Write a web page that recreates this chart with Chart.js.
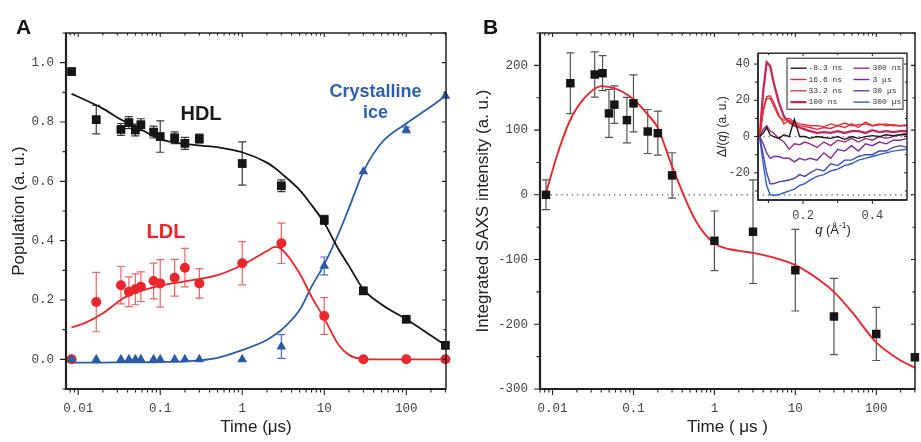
<!DOCTYPE html>
<html>
<head>
<meta charset="utf-8">
<title>HDL / LDL populations and integrated SAXS intensity</title>
<script src="https://cdn.jsdelivr.net/npm/chart.js@4.4.1/dist/chart.umd.min.js"></script>
<style>
  html, body { margin: 0; padding: 0; background: #fff; }
  #fig { position: relative; width: 921px; height: 442px; overflow: hidden; background: #fff; }
  #fig canvas { position: absolute; }
</style>
</head>
<body>
<div id="fig">
  <canvas id="chartA" width="460" height="442" style="left:0;top:0"></canvas>
  <canvas id="chartB" width="461" height="442" style="left:460px;top:0"></canvas>
  <canvas id="chartInset" width="205" height="207" style="left:712px;top:38px"></canvas>
</div>
<script>
const SANS = "'Liberation Sans', Arial, sans-serif";
const MONO = "'Liberation Mono', 'DejaVu Sans Mono', monospace";

// ---- panel A : populations vs time (us) ----
const times  = [0.0083, 0.0166, 0.0332, 0.0415, 0.0498, 0.0581, 0.083, 0.1, 0.15, 0.2, 0.3, 1, 3, 10, 30, 100, 300];
const hdl    = [0.97, 0.808, 0.775, 0.798, 0.773, 0.791, 0.766, 0.751, 0.747, 0.728, 0.744, 0.66, 0.585, 0.47, 0.231, 0.135, 0.047];
const hdlErr = [0, 0.048, 0.02, 0.02, 0.02, 0.02, 0.02, 0.053, 0.02, 0.02, 0.015, 0.073, 0.02, 0.015, 0, 0, 0];
const ldl    = [0, 0.193, 0.25, 0.228, 0.236, 0.245, 0.264, 0.256, 0.275, 0.309, 0.256, 0.324, 0.391, 0.146, 0, 0, 0];
const ldlErr = [0, 0.1, 0.063, 0.05, 0.052, 0.05, 0.06, 0.08, 0.062, 0.065, 0.05, 0.073, 0.068, 0.062, 0, 0, 0];
const ice    = [0, 0, 0, 0, 0, 0, 0, 0, 0, 0, 0, 0, 0.043, 0.315, 0.633, 0.773, 0.888];
const iceErr = [0, 0, 0, 0, 0, 0, 0, 0, 0, 0, 0, 0, 0.04, 0.03, 0, 0.01, 0];

// fitted curves
const fitTimes = [0.0083, 0.012, 0.02, 0.035, 0.05, 0.1, 0.2, 0.5, 1, 2, 2.5, 3, 5, 7, 10, 15, 20, 30, 50, 100, 200, 300];
const hdlFit = [0.895, 0.875, 0.845, 0.805, 0.785, 0.742, 0.726, 0.715, 0.698, 0.663, 0.645, 0.627, 0.571, 0.52, 0.46, 0.37, 0.315, 0.236, 0.185, 0.135, 0.08, 0.047];
const ldlFit = [0.108, 0.122, 0.155, 0.205, 0.225, 0.248, 0.263, 0.284, 0.318, 0.365, 0.379, 0.372, 0.29, 0.211, 0.138, 0.048, 0.015, 0.001, 0, 0, 0, 0];
const iceFit = [-0.011, -0.011, -0.011, -0.01, -0.01, -0.009, -0.007, 0.005, 0.031, 0.065, 0.083, 0.099, 0.166, 0.245, 0.32, 0.425, 0.51, 0.633, 0.73, 0.795, 0.852, 0.888];

// ---- panel B : integrated SAXS intensity ----
const saxs    = [0, 172.4, 185.9, 187.9, 125.8, 139.3, 115.4, 141.3, 97.8, 95.2, 30, -71, -57, -116.5, -188, -215, -251];
const saxsErr = [23, 47, 35, 27, 37, 29, 35, 44, 34, 34, 35, 46, 80, 63, 59, 41, 0];
const saxsFitTimes = [0.0083, 0.012, 0.0166, 0.025, 0.04, 0.06, 0.1, 0.15, 0.2, 0.3, 0.58, 1, 2, 3, 5, 10, 20, 30, 50, 100, 200, 300];
const saxsFit = [3, 70, 116, 150, 168, 164, 147.5, 124, 103.5, 44, -39, -75, -86.5, -89.6, -95.8, -108.7, -132, -150, -181, -228, -256, -267];

// ---- inset : dI(q) curves ----
const qValues = [0.075, 0.085, 0.095, 0.105, 0.115, 0.13, 0.145, 0.16, 0.175, 0.19, 0.205, 0.22, 0.24, 0.26, 0.28, 0.30, 0.32, 0.34, 0.36, 0.38, 0.40, 0.42, 0.44, 0.46, 0.48, 0.50];
const insetLabels = ['-8.3 ns', '16.6 ns', '33.2 ns', '100 ns', '300 ns', '3 \u03bcs', '30 \u03bcs', '300 \u03bcs'];
const dI_m8ns  = [0, 2, 5, 1, 0, -1, 1, 0, 9.5, 0, 0, -1, 0, -0.5, -1, 0, -1.5, 0, -1, 0, 0.5, 0, 1, 0.5, 1, 1];
const dI_16ns  = [0, 15, 22, 22.5, 19, 12, 7, 9, 7, 6, 5.5, 5, 4, 5, 4.5, 6, 5, 7, 5, 8, 6, 7, 6, 6.5, 6, 6];
const dI_33ns  = [0, 14, 21, 21, 17, 11, 9, 10, 8, 7, 6.5, 6, 6, 5.5, 7, 6, 7.5, 6, 6.5, 7, 6, 6.5, 7, 6, 6, 6.5];
const dI_100ns = [0, 25, 41, 39, 30, 19, 11, 8, 6, 5, 4, 3, 2, 2.5, 2, 3, 2, 3, 3, 2, 3.5, 2.5, 3, 2.5, 3, 3];
const dI_300ns = [0, 4, 6, 3, 2, -1, -3, -7, -4, -4.5, -3, -4, -6, -3, -5, -2, -3, -1, -3, -1, -2, 0, -1, 0, 1, 2];
const dI_3us   = [0, -4, -9, -12, -11, -11, -12, -12, -14, -12, -13, -12, -13, -9, -12, -7, -8, -5, -8, -4, -5, -3, -4, -2, -2, -1];
const dI_30us  = [0, -10, -20, -26, -26, -25, -24.5, -24, -23, -21, -22, -20, -18, -19, -15, -16, -13, -13, -11, -10, -10, -8, -8, -6, -5, -6];
const dI_300us = [-1, -15, -27, -32, -32.5, -32, -31, -30, -29, -27, -26, -24, -22, -21, -19, -18, -16, -15, -13, -12, -11, -10, -9, -8, -7.5, -7];
const insetSeries = [dI_m8ns, dI_16ns, dI_33ns, dI_100ns, dI_300ns, dI_3us, dI_30us, dI_300us];
const insetColors = ['#1a1a1a', '#e8282e', '#e43646', '#c4295c', '#a32a7e', '#7b2d9b', '#4547b4', '#2a5fc4'];

// tick values
const timeTicks = [0.01, 0.1, 1, 10, 100];
const timeMinor = [];
[0.001, 0.01, 0.1, 1, 10, 100].forEach(d => { for (let m = 2; m <= 9; m++) timeMinor.push(+(d * m).toPrecision(3)); });
const popTicks = [0, 0.2, 0.4, 0.6, 0.8, 1.0];
const popMinor = [-0.1, 0.1, 0.3, 0.5, 0.7, 0.9, 1.1];
const saxsTicks = [-300, -200, -100, 0, 100, 200];
const saxsMinor = [-250, -150, -50, 50, 150, 250];
const qTicks = [0.2, 0.4];
const qMinor = [0.1, 0.3];
const dITicks = [-20, 0, 20, 40];
const dIMinor = [-30, -10, 10, 30];

const pts = (xs, ys) => xs.map((x, i) => ({ x: x, y: ys[i] }));

// error bars from dataset.errors
const errorBars = {
  id: 'errorBars',
  beforeDatasetsDraw(chart) {
    const ctx = chart.ctx, ys = chart.scales.y;
    chart.data.datasets.forEach((ds, i) => {
      if (!ds.errors) return;
      const meta = chart.getDatasetMeta(i);
      ctx.save();
      ctx.strokeStyle = ds.errorColor;
      ctx.lineWidth = 1.2;
      meta.data.forEach((p, j) => {
        const e = ds.errors[j];
        if (!e) return;
        const v = ds.data[j].y;
        const y1 = ys.getPixelForValue(v + e), y2 = ys.getPixelForValue(v - e);
        ctx.beginPath();
        ctx.moveTo(p.x, y1); ctx.lineTo(p.x, y2);
        ctx.moveTo(p.x - 4, y1); ctx.lineTo(p.x + 4, y1);
        ctx.moveTo(p.x - 4, y2); ctx.lineTo(p.x + 4, y2);
        ctx.stroke();
      });
      ctx.restore();
    });
  }
};

// dotted zero line
const zeroLine = {
  id: 'zeroLine',
  beforeDatasetsDraw(chart, args, opts) {
    if (!opts.show) return;
    const { ctx, chartArea: a } = chart;
    const y = chart.scales.y.getPixelForValue(0);
    ctx.save();
    ctx.strokeStyle = opts.color;
    ctx.lineWidth = 1.3;
    ctx.setLineDash([1.3, 4]);
    ctx.beginPath(); ctx.moveTo(a.left, y); ctx.lineTo(a.right, y); ctx.stroke();
    ctx.restore();
  }
};

// box frame with major/minor tick marks (outside on bottom/left, inside on top/right)
const frameTicks = {
  id: 'frameTicks',
  afterDatasetsDraw(chart, args, o) {
    const { ctx, chartArea: a } = chart;
    const xs = chart.scales.x, ys = chart.scales.y;
    ctx.save();
    ctx.strokeStyle = '#222';
    ctx.lineWidth = o.tickWidth;
    ctx.beginPath();
    const xmark = (vals, lo, li) => vals.forEach(v => {
      const p = xs.getPixelForValue(v);
      if (p < a.left - 0.5 || p > a.right + 0.5) return;
      ctx.moveTo(p, a.bottom); ctx.lineTo(p, a.bottom + lo);
      ctx.moveTo(p, a.top); ctx.lineTo(p, a.top + li);
    });
    const ymark = (vals, lo, li) => vals.forEach(v => {
      const p = ys.getPixelForValue(v);
      if (p < a.top - 0.5 || p > a.bottom + 0.5) return;
      ctx.moveTo(a.left, p); ctx.lineTo(a.left - lo, p);
      ctx.moveTo(a.right, p); ctx.lineTo(a.right - li, p);
    });
    xmark(o.xMajor, o.out[0], o.inn[0]);
    xmark(o.xMinor, o.out[1], o.inn[1]);
    ymark(o.yMajor, o.out[0], o.inn[0]);
    ymark(o.yMinor, o.out[1], o.inn[1]);
    ctx.stroke();
    ctx.lineWidth = o.frame;
    ctx.strokeRect(a.left, a.top, a.right - a.left, a.bottom - a.top);
    ctx.lineWidth = o.axis;
    ctx.beginPath();
    ctx.moveTo(a.left, a.top); ctx.lineTo(a.left, a.bottom); ctx.lineTo(a.right, a.bottom);
    ctx.stroke();
    ctx.restore();
  }
};

// free text labels
const textLabels = {
  id: 'textLabels',
  afterDraw(chart, args, opts) {
    const ctx = chart.ctx;
    (opts.items || []).forEach(t => {
      ctx.save();
      ctx.font = t.font;
      ctx.fillStyle = t.color;
      ctx.textAlign = t.align || 'center';
      ctx.textBaseline = 'alphabetic';
      ctx.fillText(t.text, t.x, t.y);
      ctx.restore();
    });
  }
};

function scaleOpts(extra) {
  return Object.assign({
    grid: { display: false, drawTicks: false },
    border: { display: false }
  }, extra);
}

const tickFont = { family: MONO, size: 12.5 };
const titleFont = { family: SANS, size: 17 };

// ---------- panel A ----------
new Chart(document.getElementById('chartA'), {
  type: 'scatter',
  data: {
    datasets: [
      { label: 'HDL', data: pts(times, hdl), errors: hdlErr, errorColor: '#3a3a3a',
        pointStyle: 'rect', pointRadius: 6.2, backgroundColor: '#151515', borderColor: '#151515', borderWidth: 0, order: 3 },
      { label: 'LDL', data: pts(times, ldl), errors: ldlErr, errorColor: '#ef6464',
        pointStyle: 'circle', pointRadius: 5, backgroundColor: '#e8262b', borderColor: '#e8262b', borderWidth: 0, order: 2 },
      { label: 'Crystalline ice', data: pts(times, ice), errors: iceErr, errorColor: '#4a74c2',
        pointStyle: 'triangle', pointRadius: 5.6, backgroundColor: '#2a5ba8', borderColor: '#2a5ba8', borderWidth: 0, order: 1 },
      { label: 'HDL fit', data: pts(fitTimes, hdlFit), showLine: true, pointRadius: 0,
        borderColor: '#151515', borderWidth: 1.8, cubicInterpolationMode: 'monotone', order: 10 },
      { label: 'LDL fit', data: pts(fitTimes, ldlFit), showLine: true, pointRadius: 0,
        borderColor: '#e8262b', borderWidth: 1.8, cubicInterpolationMode: 'monotone', order: 10 },
      { label: 'Ice fit', data: pts(fitTimes, iceFit), showLine: true, pointRadius: 0,
        borderColor: '#2a5ba8', borderWidth: 1.8, cubicInterpolationMode: 'monotone', order: 10 }
    ]
  },
  options: {
    responsive: false, animation: false, events: [],
    clip: false,
    layout: { padding: { top: 33, right: 14, left: 0, bottom: 0 } },
    scales: {
      x: scaleOpts({
        type: 'logarithmic', min: 0.0071, max: 305,
        afterBuildTicks: s => { s.ticks = timeTicks.map(v => ({ value: v })); },
        afterFit: s => { s.height = 53; },
        ticks: { callback: v => String(v), font: tickFont, color: '#444', padding: 12, maxRotation: 0, autoSkip: false },
        title: { display: true, text: 'Time (\u03bcs)', font: titleFont, color: '#222', padding: { top: 0, bottom: 4 } }
      }),
      y: scaleOpts({
        type: 'linear', min: -0.1, max: 1.1,
        afterBuildTicks: s => { s.ticks = popTicks.map(v => ({ value: v })); },
        afterFit: s => { s.width = 66; },
        ticks: { callback: v => v.toFixed(1), font: tickFont, color: '#444', padding: 12, autoSkip: false },
        title: { display: true, text: 'Population (a. u.)', font: titleFont, color: '#222', padding: { top: 9, bottom: 0 } }
      })
    },
    plugins: {
      legend: { display: false }, tooltip: { enabled: false },
      frameTicks: { xMajor: timeTicks, xMinor: timeMinor, yMajor: popTicks, yMinor: popMinor,
        out: [6, 3.5], inn: [4, 2.5], tickWidth: 1.1, frame: 1.5, axis: 2.2 },
      textLabels: { items: [
        { text: 'A', x: 16, y: 33.5, font: 'bold 21px ' + SANS, color: '#111', align: 'left' },
        { text: 'HDL', x: 201, y: 120, font: 'bold 20px ' + SANS, color: '#1a1a1a' },
        { text: 'LDL', x: 166, y: 237.5, font: 'bold 20px ' + SANS, color: '#e8262b' },
        { text: 'Crystalline', x: 375.5, y: 96.5, font: 'bold 18px ' + SANS, color: '#2d5fb0' },
        { text: 'ice', x: 375.5, y: 117.5, font: 'bold 18px ' + SANS, color: '#2d5fb0' }
      ] }
    }
  },
  plugins: [errorBars, frameTicks, textLabels]
});

// ---------- panel B ----------
new Chart(document.getElementById('chartB'), {
  type: 'scatter',
  data: {
    datasets: [
      { label: 'SAXS', data: pts(times, saxs), errors: saxsErr, errorColor: '#555',
        pointStyle: 'rect', pointRadius: 6, backgroundColor: '#151515', borderColor: '#151515', borderWidth: 0, order: 1 },
      { label: 'SAXS fit', data: pts(saxsFitTimes, saxsFit), showLine: true, pointRadius: 0,
        borderColor: '#e8262b', borderWidth: 1.9, cubicInterpolationMode: 'monotone', order: 10 }
    ]
  },
  options: {
    responsive: false, animation: false, events: [],
    clip: false,
    layout: { padding: { top: 33, right: 1, left: 0, bottom: 0 } },
    scales: {
      x: scaleOpts({
        type: 'logarithmic', min: 0.007, max: 301,
        afterBuildTicks: s => { s.ticks = timeTicks.map(v => ({ value: v })); },
        afterFit: s => { s.height = 53; },
        ticks: { callback: v => String(v), font: tickFont, color: '#444', padding: 12, maxRotation: 0, autoSkip: false },
        title: { display: true, text: 'Time ( \u03bcs )', font: titleFont, color: '#222', padding: { top: 0, bottom: 4 } }
      }),
      y: scaleOpts({
        type: 'linear', min: -300, max: 250,
        afterBuildTicks: s => { s.ticks = saxsTicks.map(v => ({ value: v })); },
        afterFit: s => { s.width = 80; },
        ticks: { callback: v => String(v), font: tickFont, color: '#444', padding: 12, autoSkip: false },
        title: { display: true, text: 'Integrated SAXS intensity (a. u.)', font: titleFont, color: '#222', padding: { top: 13, bottom: 0 } }
      })
    },
    plugins: {
      legend: { display: false }, tooltip: { enabled: false },
      zeroLine: { show: true, color: '#555' },
      frameTicks: { xMajor: timeTicks, xMinor: timeMinor, yMajor: saxsTicks, yMinor: saxsMinor,
        out: [6, 3.5], inn: [4, 2.5], tickWidth: 1.1, frame: 1.5, axis: 2.2 },
      textLabels: { items: [
        { text: 'B', x: 23, y: 33.5, font: 'bold 21px ' + SANS, color: '#111', align: 'left' }
      ] }
    }
  },
  plugins: [zeroLine, errorBars, frameTicks, textLabels]
});

// ---------- inset ----------
function drawRich(ctx, parts, x, y, size, rotate) {
  ctx.save();
  ctx.translate(x, y);
  if (rotate) ctx.rotate(-Math.PI / 2);
  ctx.textBaseline = 'middle';
  ctx.fillStyle = '#222';
  const fontOf = p => (p.it ? 'italic ' : '') + (p.sup ? size * 0.65 : size) + 'px ' + SANS;
  let total = 0;
  parts.forEach(p => { ctx.font = fontOf(p); total += ctx.measureText(p.t).width; });
  let cx = -total / 2;
  parts.forEach(p => {
    ctx.font = fontOf(p);
    ctx.fillText(p.t, cx, p.sup ? -size * 0.3 : 0);
    cx += ctx.measureText(p.t).width;
  });
  ctx.restore();
}

const insetDecor = {
  id: 'insetDecor',
  afterDraw(chart) {
    const { ctx, chartArea: a } = chart;
    // axis titles
    drawRich(ctx, [{ t: '\u0394' }, { t: 'I', it: true }, { t: '(' }, { t: 'q', it: true }, { t: ') (a. u.)' }], 11, (a.top + a.bottom) / 2, 12, true);
    drawRich(ctx, [{ t: 'q', it: true }, { t: ' (\u00c5' }, { t: '-1', sup: true }, { t: ')' }], 121, 192, 13, false);
    // legend, two columns
    const bx = a.left + 29, by = a.top + 5, bw = a.right - 4 - bx, bh = 51;
    ctx.save();
    ctx.fillStyle = '#fff';
    ctx.fillRect(bx, by, bw, bh);
    ctx.strokeStyle = '#222';
    ctx.lineWidth = 1;
    ctx.strokeRect(bx, by, bw, bh);
    ctx.font = '8px ' + MONO;
    ctx.textBaseline = 'middle';
    chart.data.datasets.forEach((ds, i) => {
      const col = Math.floor(i / 4), row = i % 4;
      const lx = bx + (col ? 66.5 : 3.5), tx = bx + (col ? 85.5 : 21.5);
      const ly = by + 10 + row * 11.3;
      ctx.strokeStyle = ds.borderColor;
      ctx.lineWidth = ds.borderWidth;
      ctx.beginPath(); ctx.moveTo(lx, ly); ctx.lineTo(lx + 16, ly); ctx.stroke();
      ctx.fillStyle = '#333';
      ctx.fillText(ds.label, tx, ly);
    });
    ctx.restore();
  }
};

new Chart(document.getElementById('chartInset'), {
  type: 'scatter',
  data: {
    datasets: insetSeries.map((s, i) => ({
      label: insetLabels[i], data: pts(qValues, s), showLine: true, pointRadius: 0,
      borderColor: insetColors[i], borderWidth: i === 3 ? 2.3 : 1.4, tension: 0
    }))
  },
  options: {
    responsive: false, animation: false, events: [],
    layout: { padding: { top: 5, right: 10, left: 0, bottom: 0 } },
    scales: {
      x: scaleOpts({
        type: 'linear', min: 0.07, max: 0.5,
        afterBuildTicks: s => { s.ticks = qTicks.map(v => ({ value: v })); },
        afterFit: s => { s.height = 45; },
        ticks: { callback: v => v.toFixed(1), font: { family: MONO, size: 12 }, color: '#444', padding: 9, maxRotation: 0, autoSkip: false }
      }),
      y: scaleOpts({
        type: 'linear', min: -35, max: 46,
        afterBuildTicks: s => { s.ticks = dITicks.map(v => ({ value: v })); },
        afterFit: s => { s.width = 46; },
        ticks: { callback: v => String(v), font: { family: MONO, size: 12 }, color: '#444', padding: 8, autoSkip: false }
      })
    },
    plugins: {
      legend: { display: false }, tooltip: { enabled: false },
      zeroLine: { show: true, color: '#777' },
      frameTicks: { xMajor: qTicks, xMinor: qMinor, yMajor: dITicks, yMinor: dIMinor,
        out: [4, 3], inn: [3, 2], tickWidth: 1, frame: 1.4, axis: 1.4 }
    }
  },
  plugins: [zeroLine, frameTicks, insetDecor]
});
</script>
</body>
</html>
